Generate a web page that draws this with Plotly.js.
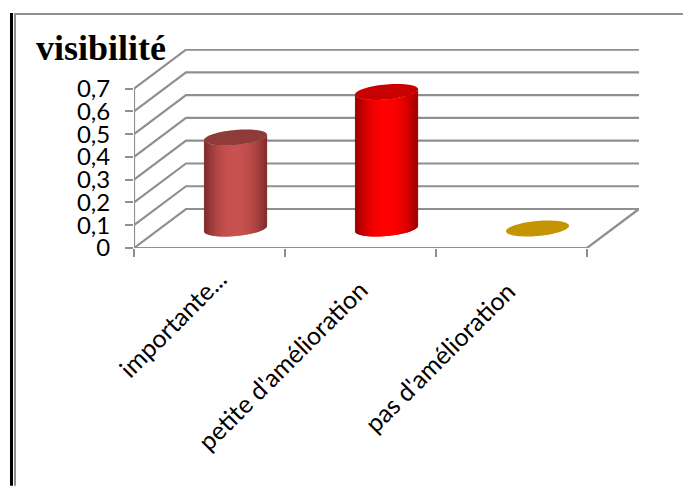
<!DOCTYPE html>
<html>
<head>
<meta charset="utf-8">
<script src="https://cdn.plot.ly/plotly-3.0.1.min.js"></script>
<style>html,body{margin:0;padding:0;background:#fff;overflow:hidden}</style>
</head>
<body>
<div id="chart" style="width:683px;height:486px"></div>
<script>
// Survey results for "visibilité", one value per improvement level
const categories = ["importante...", "petite d'amélioration", "pas d'amélioration"];
const values = [0.4, 0.6, 0];
const yTicks = [0, 0.1, 0.2, 0.3, 0.4, 0.5, 0.6, 0.7];

// Per-cylinder shading: centre of the body, dark edge, top cap
const bodyColors = [[201, 82, 80], [255, 0, 0], [196, 149, 0]];
const edgeColors = [[122, 42, 41], [150, 0, 0], [196, 149, 0]];
const capColors = ["#8f3b39", "#c90000", "#c49500"];

const GRID = "#8f8f8f";

// Plot box in pixels and the oblique depth of the 3D floor
const W = 683, H = 486;
const left = 134, right = 639, top_ = 49.3, bottom = 248.3;
const pxPerCat = 151, pxPerUnit = 227.6;
const xMax = (right - left) / pxPerCat;
const yMax = (bottom - top_) / pxPerUnit;
const depthX = (right - left - 3 * pxPerCat) / pxPerCat;
const depthY = 39 / pxPerUnit;

const traces = [];

function line(xs, ys, width) {
  traces.push({
    type: "scatter", mode: "lines", x: xs, y: ys, cliponaxis: false,
    line: { color: GRID, width: width || 2.2, simplify: false },
    hoverinfo: "skip", showlegend: false
  });
}

// Left wall diagonals and back wall gridlines
yTicks.forEach(v => {
  line([0, depthX, 3 + depthX], [v, v + depthY, v + depthY]);
});
// Front axis lines and the right edge of the floor
line([0, 0], [0, 0.7]);
line([0, 3], [0, 0]);
line([3, 3 + depthX], [0, depthY]);

// Cylinder footprint: a circle on the floor seen through the oblique projection
const radiusU = 29.7 / pxPerCat;   // half width along the x axis
const radiusD = 0.205;             // radius as a share of the floor depth
const skewX = radiusD * depthX, skewY = radiusD * depthY;
const halfW = Math.hypot(radiusU, skewX);
const phi = Math.atan2(skewX, radiusU);

function ellipseY(cy, s) { return cy + skewY * Math.sin(s + phi); }

values.forEach((v, i) => {
  const cx = i + 0.5 + depthX / 2;
  const base = depthY / 2;
  const topY = base + v;
  const N = 44;
  if (v > 0) {
    for (let k = 0; k < N; k++) {
      // Each strip runs one step past its neighbour so no seam shows between them
      const s0 = -Math.PI + Math.PI * k / N;
      const s1 = -Math.PI + Math.PI * Math.min(k + 2, N) / N;
      const x0 = cx + halfW * Math.cos(s0), x1 = cx + halfW * Math.cos(s1);
      const mid = -Math.PI + Math.PI * (k + 0.5) / N;
      // Falloff from the centre of the body to its edges
      const f = Math.pow(Math.abs(Math.cos(mid)), 2.2);
      const c = bodyColors[i].map((b, j) => Math.round(b + (edgeColors[i][j] - b) * f));
      const col = `rgb(${c[0]},${c[1]},${c[2]})`;
      traces.push({
        type: "scatter", mode: "none", fill: "toself", fillcolor: col,
        x: [x0, x1, x1, x0, x0],
        y: [ellipseY(base, s0), ellipseY(base, s1), ellipseY(topY, s1), ellipseY(topY, s0), ellipseY(base, s0)],
        hoverinfo: "skip", showlegend: false
      });
    }
  }
  const ex = [], ey = [];
  for (let k = 0; k <= 72; k++) {
    const s = 2 * Math.PI * k / 72;
    ex.push(cx + halfW * Math.cos(s));
    ey.push(ellipseY(topY, s));
  }
  traces.push({
    type: "scatter", mode: "none", fill: "toself", fillcolor: capColors[i],
    x: ex, y: ey, hoverinfo: "skip", showlegend: false
  });
});

// Page frame, placed in paper coordinates
const px = p => (p - left) / (right - left);
const py = p => (bottom - p) / (bottom - top_);
const rect = (x0, y0, x1, y1, color) => ({
  type: "rect", xref: "paper", yref: "paper", layer: "below",
  x0: px(x0), x1: px(x1), y0: py(y0), y1: py(y1),
  fillcolor: color, line: { width: 0 }
});

// Slanted category labels, hung from the axis at each category centre
const labelShiftX = [24, 14, 10];
const labelShiftY = [-14, -25, -27];
const categoryLabels = categories.map((text, i) => ({
  text, x: i + 0.5, y: 0, xref: "x", yref: "y",
  xanchor: "right", yanchor: "top", textangle: -45,
  xshift: labelShiftX[i], yshift: labelShiftY[i],
  showarrow: false, borderpad: 0,
  font: { family: "Lato", size: 25, color: "#000" }
}));

const layout = {
  width: W, height: H,
  margin: { l: left, r: W - right, t: top_, b: H - bottom, pad: 0 },
  paper_bgcolor: "#fff", plot_bgcolor: "rgba(0,0,0,0)",
  showlegend: false,
  separators: ", ",
  title: {
    text: "<b>visibilité</b>",
    font: { family: "Liberation Serif", size: 36, color: "#000" },
    xref: "container", yref: "container",
    x: 36 / W, xanchor: "left",
    y: 1 - 47 / H, yanchor: "middle"
  },
  xaxis: {
    range: [0, xMax], showgrid: false, zeroline: false, showline: false,
    tickmode: "array", tickvals: [0, 1, 2, 3], showticklabels: false,
    ticks: "outside", ticklen: 8, tickwidth: 2, tickcolor: GRID,
    automargin: false
  },
  yaxis: {
    range: [0, yMax], showgrid: false, zeroline: false, showline: false,
    tickmode: "array", tickvals: yTicks, tickformat: ".1~f",
    ticks: "outside", ticklen: 8, tickwidth: 2, tickcolor: GRID,
    automargin: false, ticklabelstandoff: 10,
    tickfont: { family: "Lato", size: 24, color: "#000" }
  },
  annotations: categoryLabels,
  shapes: [
    rect(14, 13.3, W, 15.3, "#8f8f8f"),
    rect(10, 13.3, 13, H, "#000"),
    rect(14, 13.3, 16, H, "#8f8f8f")
  ]
};

Plotly.newPlot("chart", traces, layout, { displayModeBar: false, staticPlot: true });
</script>
</body>
</html>
